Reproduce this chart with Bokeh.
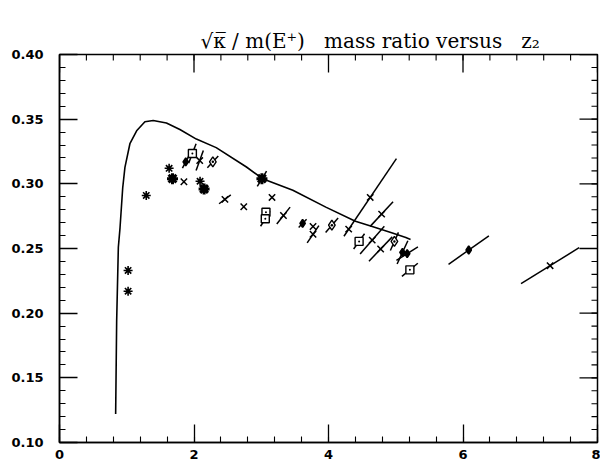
import math
from bokeh.plotting import figure
from bokeh.models import (Range1d, ColumnDataSource, Title, LinearAxis, FixedTicker,
                          SingleIntervalTicker, NumeralTickFormatter)
from bokeh.embed import file_html
from bokeh.resources import INLINE

# ---- theory curve ----
curve_x = [0.835, 0.85, 0.875, 0.90, 0.94, 0.973, 1.047, 1.147, 1.27, 1.393,
           1.59, 1.79, 2.035, 2.33, 2.78, 3.02, 3.47, 3.96, 4.40, 4.65, 4.95,
           5.15, 5.22]
curve_y = [0.122, 0.194, 0.251, 0.266, 0.297, 0.3127, 0.331, 0.341, 0.348,
           0.349, 0.347, 0.342, 0.3346, 0.328, 0.313, 0.304, 0.295, 0.282,
           0.271, 0.267, 0.262, 0.2585, 0.257]

# ---- measurements: position and (correlated) error half-extent ----
ast_x = [1.02, 1.02, 1.29, 1.63, 2.09]
ast_y = [0.233, 0.217, 0.291, 0.312, 0.302]

bold_x = [1.68, 2.15, 3.01]
bold_y = [0.304, 0.296, 0.304]
bold_dx = [0.0, 0.0, 0.069]
bold_dy = [0.0, 0.0, 0.0059]

cross_x = [1.85, 2.085, 2.46, 2.74, 3.16, 3.33, 3.77, 3.77, 4.30, 4.62,
           4.79, 4.65, 4.775, 7.295]
cross_y = [0.3016, 0.318, 0.288, 0.2823, 0.2895, 0.2755, 0.267, 0.261,
           0.265, 0.2895, 0.2766, 0.2565, 0.2496, 0.2367]
cross_dx = [0.0, 0.054, 0.087, 0.0, 0.0, 0.099, 0.0, 0.087, 0.0, 0.39,
            0.17, 0.18, 0.173, 0.432]
cross_dy = [0.0, 0.0077, 0.0034, 0.0, 0.0, 0.0065, 0.0, 0.0067, 0.0, 0.030,
            0.0095, 0.0107, 0.0094, 0.0139]

sq_x = [1.976, 3.07, 3.06, 4.455, 5.21]
sq_y = [0.3235, 0.278, 0.273, 0.2555, 0.2335]
sq_dx = [0.055, 0.0, 0.07, 0.081, 0.118]
sq_dy = [0.0075, 0.0, 0.0058, 0.0059, 0.0051]

dia_x = [2.28, 4.05, 4.98]
dia_y = [0.317, 0.268, 0.2555]
dia_dx = [0.081, 0.093, 0.06]
dia_dy = [0.0046, 0.0056, 0.007]

dot_x = [1.877, 3.615, 5.10, 5.17, 6.085]
dot_y = [0.317, 0.2694, 0.247, 0.246, 0.2488]
dot_dx = [0.049, 0.059, 0.08, 0.16, 0.30]
dot_dy = [0.0048, 0.0032, 0.009, 0.0052, 0.011]

x_lo, x_hi, x_step, x_minor = 0, 8, 2, 5
y_lo, y_hi, y_step, y_minor = 0.10, 0.40, 0.05, 5

title_text = "\u221a\u03ba\u0305 / m(E\u207a)\u00a0\u00a0 mass ratio versus\u00a0\u00a0 z\u2082"

p = figure(width=600, height=466, x_range=Range1d(x_lo, x_hi), y_range=Range1d(y_lo, y_hi),
           output_backend="svg", toolbar_location=None, title=None,
           min_border_left=59, min_border_right=3, min_border_top=54, min_border_bottom=24)
p.grid.visible = False
p.outline_line_color = "black"
p.outline_line_width = 1.5
p.background_fill_color = "white"
p.border_fill_color = "white"

# empty spacer band between the frame and the title
spacer = LinearAxis(ticker=FixedTicker(ticks=[]), axis_line_color=None,
                    major_tick_in=0, major_tick_out=20, major_tick_line_color=None,
                    minor_tick_in=0, minor_tick_out=0, minor_tick_line_color=None,
                    major_label_standoff=0)
p.add_layout(spacer, "above")

p.add_layout(Title(text=title_text, text_font="DejaVu Serif", text_font_size="20px",
                   text_font_style="normal", text_color="black", align="left",
                   vertical_align="bottom", offset=141, standoff=4), "above")

p.below[0].ticker = SingleIntervalTicker(interval=x_step, num_minor_ticks=x_minor)
p.left[0].ticker = SingleIntervalTicker(interval=y_step, num_minor_ticks=y_minor)
p.left[0].formatter = NumeralTickFormatter(format="0.00")

for ax in (p.below[0], p.left[0]):
    ax.major_tick_in = 18
    ax.major_tick_out = 0
    ax.minor_tick_in = 6
    ax.minor_tick_out = 0
    ax.axis_line_width = 1.5
    ax.major_tick_line_width = 1.3
    ax.minor_tick_line_width = 1.1
    ax.axis_line_color = "black"
    ax.major_tick_line_color = "black"
    ax.minor_tick_line_color = "black"
    ax.major_label_text_font = "DejaVu Sans"
    ax.major_label_text_font_style = "bold"
    ax.major_label_text_font_size = "13px"
    ax.major_label_text_color = "black"
p.below[0].major_label_standoff = 7
p.left[0].major_label_standoff = 16

# mirrored ticks on the top and right edges of the frame
n_x = int(round((x_hi - x_lo) / x_step))
n_y = int(round((y_hi - y_lo) / y_step))
xt_major = [x_lo + i * x_step for i in range(n_x + 1)]
xt_minor = [x_lo + i * x_step / x_minor for i in range(n_x * x_minor + 1)]
yt_major = [y_lo + i * y_step for i in range(n_y + 1)]
yt_minor = [y_lo + i * y_step / y_minor for i in range(n_y * y_minor + 1)]

p.ray(x=xt_major, y=[y_hi] * len(xt_major), length=18, length_units="screen",
      angle=-math.pi / 2, line_color="black", line_width=1.3)
p.ray(x=xt_minor, y=[y_hi] * len(xt_minor), length=6, length_units="screen",
      angle=-math.pi / 2, line_color="black", line_width=1.1)
p.ray(x=[x_hi] * len(yt_major), y=yt_major, length=18, length_units="screen",
      angle=math.pi, line_color="black", line_width=1.3)
p.ray(x=[x_hi] * len(yt_minor), y=yt_minor, length=6, length_units="screen",
      angle=math.pi, line_color="black", line_width=1.1)

# theory curve
p.line(curve_x, curve_y, line_color="black", line_width=1.6)


def bars(xs, ys, dxs, dys):
    src = ColumnDataSource(dict(
        x0=[x - d for x, d in zip(xs, dxs)], y0=[y - d for y, d in zip(ys, dys)],
        x1=[x + d for x, d in zip(xs, dxs)], y1=[y + d for y, d in zip(ys, dys)]))
    p.segment("x0", "y0", "x1", "y1", source=src, line_color="black", line_width=1.5)


bars(bold_x, bold_y, bold_dx, bold_dy)
bars(cross_x, cross_y, cross_dx, cross_dy)
bars(sq_x, sq_y, sq_dx, sq_dy)
bars(dia_x, dia_y, dia_dx, dia_dy)
bars(dot_x, dot_y, dot_dx, dot_dy)

p.scatter(ast_x, ast_y, marker="asterisk", size=9, line_color="black", line_width=1.6)
p.scatter(bold_x, bold_y, marker="asterisk", size=11, line_color="black", line_width=3)
p.scatter(cross_x, cross_y, marker="x", size=9, line_color="black", line_width=1.5)
p.scatter(sq_x, sq_y, marker="square_dot", size=8, line_color="black", line_width=1.4,
          fill_color="white")
p.scatter(dia_x, dia_y, marker="diamond_dot", size=10, line_color="black", line_width=1.4,
          fill_color="white")
p.scatter(dot_x, dot_y, marker="diamond", size=8, line_color="black", line_width=1.6,
          fill_color="black")

open("out.html", "w").write(file_html(p, INLINE))
